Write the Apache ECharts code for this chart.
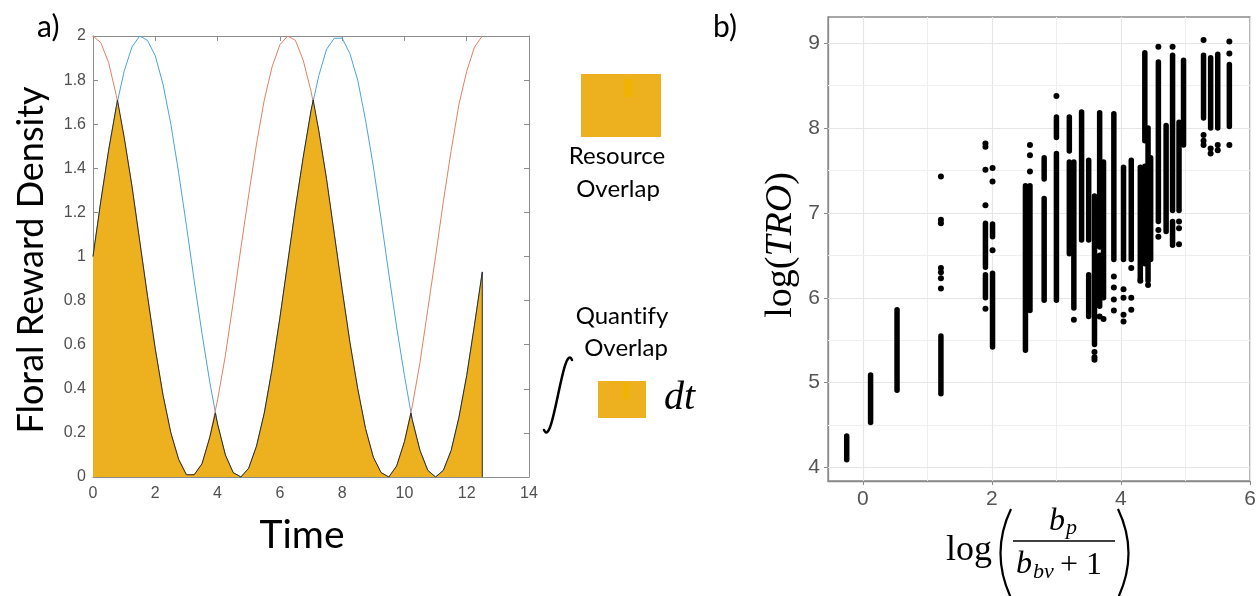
<!DOCTYPE html>
<html>
<head>
<meta charset="utf-8">
<script src="https://cdn.jsdelivr.net/npm/echarts@6/dist/echarts.min.js"></script>
<style>
  html, body { margin: 0; padding: 0; background: #fff; }
  #main { width: 1260px; height: 596px; }
</style>
</head>
<body>
<div id="main"></div>
<script>
// panel a) - two flower reward curves and their overlap
const timeA = [0, 0.25, 0.5, 0.75, 1, 1.25, 1.5, 1.75, 2, 2.25, 2.5, 2.75, 3, 3.25, 3.5, 3.75, 4, 4.25, 4.5, 4.75,
  5, 5.25, 5.5, 5.75, 6, 6.25, 6.5, 6.75, 7, 7.25, 7.5, 7.75, 8, 8.25, 8.5, 8.75, 9, 9.25, 9.5, 9.75,
  10, 10.25, 10.5, 10.75, 11, 11.25, 11.5, 11.75, 12, 12.25, 12.5];
const rewardBlue = [1.00, 1.25, 1.48, 1.68, 1.84, 1.95, 2.00, 1.98, 1.91, 1.78, 1.60, 1.38, 1.14, 0.89, 0.65, 0.43, 0.24, 0.10, 0.02, 0.00,
  0.04, 0.14, 0.29, 0.49, 0.72, 0.97, 1.22, 1.45, 1.66, 1.82, 1.94, 1.99, 1.99, 1.92, 1.80, 1.62, 1.41, 1.17, 0.92, 0.68,
  0.46, 0.26, 0.12, 0.03, 0.00, 0.03, 0.12, 0.27, 0.46, 0.69, 0.93];
const rewardRed = [2.00, 1.97, 1.88, 1.73, 1.54, 1.32, 1.07, 0.82, 0.58, 0.37, 0.20, 0.08, 0.01, 0.01, 0.06, 0.18, 0.35, 0.55, 0.79, 1.04,
  1.28, 1.51, 1.71, 1.86, 1.96, 2.00, 1.98, 1.89, 1.75, 1.57, 1.35, 1.10, 0.85, 0.61, 0.40, 0.22, 0.09, 0.02, 0.00, 0.05,
  0.16, 0.32, 0.52, 0.76, 1.00, 1.25, 1.48, 1.69, 1.84, 1.95, 2.00];
const overlapT = [0, 0.25, 0.5, 0.75, 0.785, 1, 1.25, 1.5, 1.75, 2, 2.25, 2.5, 2.75, 3, 3.25, 3.5, 3.75, 3.93, 4, 4.25,
  4.5, 4.75, 5, 5.25, 5.5, 5.75, 6, 6.25, 6.5, 6.75, 7, 7.07, 7.25, 7.5, 7.75, 8, 8.25, 8.5, 8.75, 9,
  9.25, 9.5, 9.75, 10, 10.21, 10.25, 10.5, 10.75, 11, 11.25, 11.5, 11.75, 12, 12.25, 12.5, 12.5];
const overlapV = [1.00, 1.25, 1.48, 1.68, 1.71, 1.54, 1.32, 1.07, 0.82, 0.58, 0.37, 0.20, 0.08, 0.01, 0.01, 0.06, 0.18, 0.29, 0.24, 0.10,
  0.02, 0.00, 0.04, 0.14, 0.29, 0.49, 0.72, 0.97, 1.22, 1.45, 1.66, 1.71, 1.57, 1.35, 1.10, 0.85, 0.61, 0.40, 0.22, 0.09,
  0.02, 0.00, 0.05, 0.16, 0.29, 0.26, 0.12, 0.03, 0.00, 0.03, 0.12, 0.27, 0.46, 0.69, 0.93, 0];

// panel b) - dense columns of points: [x, yLow, yHigh]
const pointRuns = [
  [-0.25, 4.09, 4.37], [0.12, 4.53, 5.09], [0.53, 4.91, 5.86], [1.21, 4.87, 5.55],
  [1.90, 6.36, 6.88], [1.90, 6.00, 6.27], [2.01, 6.72, 6.87], [2.01, 5.42, 6.29],
  [2.52, 5.38, 7.32], [2.59, 5.85, 7.32], [2.81, 7.40, 7.65], [2.81, 5.97, 7.17],
  [3.00, 7.89, 8.13], [3.00, 5.97, 7.70], [3.20, 7.73, 8.13], [3.20, 6.52, 7.60],
  [3.27, 5.88, 7.60], [3.39, 6.68, 8.19], [3.50, 6.68, 7.62], [3.50, 5.78, 6.27],
  [3.59, 5.45, 7.20], [3.67, 6.60, 8.18], [3.67, 5.90, 6.50], [3.73, 6.00, 7.60],
  [3.89, 6.45, 8.17], [4.04, 6.45, 7.54], [4.16, 6.45, 7.62], [4.30, 6.22, 7.54],
  [4.37, 7.85, 8.89], [4.37, 6.40, 7.55], [4.42, 6.20, 8.00], [4.46, 6.45, 7.65],
  [4.58, 6.90, 8.78], [4.70, 6.78, 8.03], [4.80, 7.03, 8.86], [4.80, 6.62, 6.90],
  [4.90, 7.03, 8.07], [4.97, 7.80, 8.80], [5.28, 8.12, 8.86], [5.39, 8.00, 8.83],
  [5.50, 8.00, 8.87], [5.68, 8.02, 8.75]
];
// panel b) - isolated points: [x, y]
const loosePoints = [
  [1.21, 7.43], [1.21, 6.92], [1.21, 6.88], [1.21, 6.35], [1.21, 6.30], [1.21, 6.23], [1.21, 6.11],
  [1.90, 7.82], [1.90, 7.78], [1.90, 7.51], [1.90, 7.09], [1.90, 5.87],
  [2.01, 7.53], [2.01, 7.37], [2.01, 6.56],
  [2.59, 7.80], [2.59, 7.68], [2.59, 7.49], [3.00, 8.38], [3.27, 5.74],
  [3.59, 5.36], [3.59, 5.30], [3.59, 5.27], [3.67, 5.78], [3.73, 5.75],
  [3.89, 6.25], [3.89, 6.12], [3.89, 5.98], [3.89, 5.85],
  [4.04, 6.10], [4.04, 6.00], [4.04, 5.80], [4.04, 5.72],
  [4.16, 6.35], [4.16, 6.00], [4.16, 5.86], [4.30, 6.20], [4.42, 6.15],
  [4.58, 8.96], [4.58, 6.80], [4.58, 6.72], [4.80, 8.96],
  [4.90, 6.90], [4.90, 6.82], [4.90, 6.63],
  [5.28, 9.04], [5.28, 7.92], [5.28, 7.85], [5.28, 7.80],
  [5.39, 7.76], [5.39, 7.70], [5.50, 7.80], [5.50, 7.74],
  [5.68, 9.02], [5.68, 8.88], [5.68, 7.80]
];
const xTicksB = [0, 2, 4, 6];
const yTicksB = [4, 5, 6, 7, 8, 9];
const xMinorB = [1, 3, 5];
const yMinorB = [4.5, 5.5, 6.5, 7.5, 8.5];

const chart = echarts.init(document.getElementById('main'));

const gold = '#EDB120';
const tickFontA = { color: '#505050', fontFamily: '"Liberation Sans Narrow", "Arial Narrow", sans-serif', fontSize: 16 };
const tickFontB = { color: '#555', fontFamily: '"Liberation Sans", Arial, sans-serif', fontSize: 21 };
const boxA = '#8c8c8c';
const boxB = '#8a8a8a';
const sansFont = 'Lato, "Open Sans", sans-serif';
const mathFont = '"Liberation Serif", serif';

function zipXY(xs, ys) {
  return xs.map((x, i) => [x, ys[i]]);
}

// gridlines for panel b)
const gridLinesB = [
  ...xTicksB.map(v => ({ xAxis: v, lineStyle: { color: '#e6e6e6', width: 1.2, type: 'solid' } })),
  ...xMinorB.map(v => ({ xAxis: v, lineStyle: { color: '#efefef', width: 1, type: 'solid' } })),
  ...yTicksB.map(v => ({ yAxis: v, lineStyle: { color: '#e6e6e6', width: 1.2, type: 'solid' } })),
  ...yMinorB.map(v => ({ yAxis: v, lineStyle: { color: '#efefef', width: 1, type: 'solid' } }))
];

// text placed by its top edge
function txt(x, y, text, font, align, extra) {
  return Object.assign({
    type: 'text', x: x, y: y,
    style: { text: text, font: font, fill: '#000', align: align || 'left', verticalAlign: 'top' }
  }, extra || {});
}

function boxAxis(extra) {
  return Object.assign({
    type: 'value', gridIndex: 0,
    axisLine: { onZero: false, lineStyle: { color: boxA } },
    axisTick: { inside: true, length: 5, lineStyle: { color: boxA } },
    splitLine: { show: false }
  }, extra);
}

const option = {
  animation: false,
  backgroundColor: '#fff',
  grid: [
    { left: 93, top: 36, width: 436, height: 441, show: false },
    { left: 828, top: 17, width: 422, height: 464, show: true, backgroundColor: '#fff', borderColor: boxB, borderWidth: 1.3 }
  ],
  xAxis: [
    boxAxis({ min: 0, max: 14, interval: 2, position: 'bottom', axisLabel: Object.assign({ margin: 9 }, tickFontA) }),
    boxAxis({ min: 0, max: 14, interval: 2, position: 'top', axisLabel: { show: false } }),
    {
      gridIndex: 1, type: 'value', min: -0.54, max: 6.0, position: 'bottom',
      axisLine: { onZero: false, lineStyle: { color: boxB, width: 1.3 } },
      axisTick: { customValues: xTicksB, length: 4, lineStyle: { color: boxB } },
      axisLabel: Object.assign({ customValues: xTicksB, margin: 8 }, tickFontB),
      splitLine: { show: false }
    }
  ],
  yAxis: [
    boxAxis({ min: 0, max: 2, interval: 0.2, position: 'left', axisLabel: Object.assign({ margin: 7 }, tickFontA) }),
    boxAxis({ min: 0, max: 2, interval: 0.2, position: 'right', axisLabel: { show: false } }),
    {
      gridIndex: 1, type: 'value', min: 3.84, max: 9.31, position: 'left',
      axisLine: { onZero: false, lineStyle: { color: boxB, width: 1.3 } },
      axisTick: { customValues: yTicksB, length: 4, lineStyle: { color: boxB } },
      axisLabel: Object.assign({ customValues: yTicksB, margin: 8 }, tickFontB),
      splitLine: { show: false }
    }
  ],
  series: [
    {
      name: 'Flower 1', type: 'line', xAxisIndex: 0, yAxisIndex: 0,
      data: zipXY(timeA, rewardBlue), showSymbol: false, z: 2,
      lineStyle: { color: '#4aa3dd', width: 1 }
    },
    {
      name: 'Flower 2', type: 'line', xAxisIndex: 0, yAxisIndex: 0,
      data: zipXY(timeA, rewardRed), showSymbol: false, z: 2,
      lineStyle: { color: '#e57f60', width: 1 }
    },
    {
      name: 'Overlap', type: 'line', xAxisIndex: 0, yAxisIndex: 0,
      data: zipXY(overlapT, overlapV), showSymbol: false, z: 3,
      lineStyle: { color: '#2b2b2b', width: 1 },
      areaStyle: { color: gold, opacity: 1 }
    },
    {
      name: 'grid b', type: 'scatter', xAxisIndex: 2, yAxisIndex: 2, data: [], z: 1,
      markLine: { silent: true, z: 1, symbol: 'none', label: { show: false }, animation: false, data: gridLinesB }
    },
    {
      name: 'runs', type: 'custom', xAxisIndex: 2, yAxisIndex: 2, z: 6,
      data: pointRuns,
      encode: { x: 0, y: [1, 2] },
      renderItem: function (params, api) {
        const p0 = api.coord([api.value(0), api.value(1)]);
        const p1 = api.coord([api.value(0), api.value(2)]);
        return {
          type: 'line',
          shape: { x1: p0[0], y1: p0[1], x2: p1[0], y2: p1[1] },
          style: { stroke: '#000', lineWidth: 5.5, lineCap: 'round' }
        };
      }
    },
    {
      name: 'points', type: 'scatter', xAxisIndex: 2, yAxisIndex: 2, z: 6,
      data: loosePoints, symbolSize: 6, itemStyle: { color: '#000', opacity: 1 }
    }
  ],
  graphic: [
    // panel labels
    txt(37, 12, 'a)', '30px ' + sansFont),
    txt(713, 12, 'b)', '30px ' + sansFont),
    // panel a axis titles
    txt(13, 260, 'Floral Reward Density', '36px ' + sansFont, 'center', { rotation: Math.PI / 2 }),
    txt(302, 516, 'Time', '39px ' + sansFont, 'center'),
    // middle explanation
    { type: 'rect', shape: { x: 581, y: 74, width: 80, height: 63 }, style: { fill: gold } },
    { type: 'rect', shape: { x: 624, y: 79, width: 9, height: 18 }, style: { fill: '#F0B400' } },
    txt(617, 144, 'Resource', '24px ' + sansFont, 'center'),
    txt(618, 177, 'Overlap', '24px ' + sansFont, 'center'),
    txt(622, 304, 'Quant\u200Cify', '24px ' + sansFont, 'center'),
    txt(626, 336, 'Overlap', '24px ' + sansFont, 'center'),
    {
      type: 'bezierCurve',
      shape: { x1: 572, y1: 360, cpx1: 563, cpy1: 340, cpx2: 553, cpy2: 450, x2: 544, y2: 430 },
      style: { stroke: '#000', lineWidth: 2.5, fill: null, lineCap: 'round' }
    },
    { type: 'rect', shape: { x: 598, y: 381, width: 48, height: 37 }, style: { fill: gold } },
    { type: 'rect', shape: { x: 623, y: 383, width: 6, height: 16 }, style: { fill: '#F0B400' } },
    txt(664, 378, 'dt', 'italic 40px ' + mathFont),
    // panel b axis titles
    {
      type: 'text', x: 781, y: 245, rotation: Math.PI / 2,
      style: {
        text: '{n|log(}{i|TRO}{n|)}', align: 'center', verticalAlign: 'middle',
        rich: {
          n: { font: '38px ' + mathFont, fill: '#000' },
          i: { font: 'italic 38px ' + mathFont, fill: '#000' }
        }
      }
    },
    txt(946, 533, 'log', '36px ' + mathFont),
    {
      type: 'bezierCurve', shape: { x1: 1011, y1: 509, cpx1: 990, cpy1: 553, x2: 1011, y2: 598 },
      style: { stroke: '#000', lineWidth: 2.2, fill: null }
    },
    {
      type: 'bezierCurve', shape: { x1: 1118, y1: 509, cpx1: 1139, cpy1: 553, x2: 1118, y2: 598 },
      style: { stroke: '#000', lineWidth: 2.2, fill: null }
    },
    { type: 'line', shape: { x1: 1013, y1: 541, x2: 1115, y2: 541 }, style: { stroke: '#000', lineWidth: 1.5 } },
    txt(1049, 506, 'b', 'italic 32px ' + mathFont),
    txt(1066, 517, 'p', 'italic 22px ' + mathFont),
    txt(1016, 549, 'b', 'italic 32px ' + mathFont),
    txt(1033, 561, 'bv', 'italic 22px ' + mathFont),
    txt(1060, 550, '+ 1', '32px ' + mathFont)
  ]
};

chart.setOption(option);
</script>
</body>
</html>
